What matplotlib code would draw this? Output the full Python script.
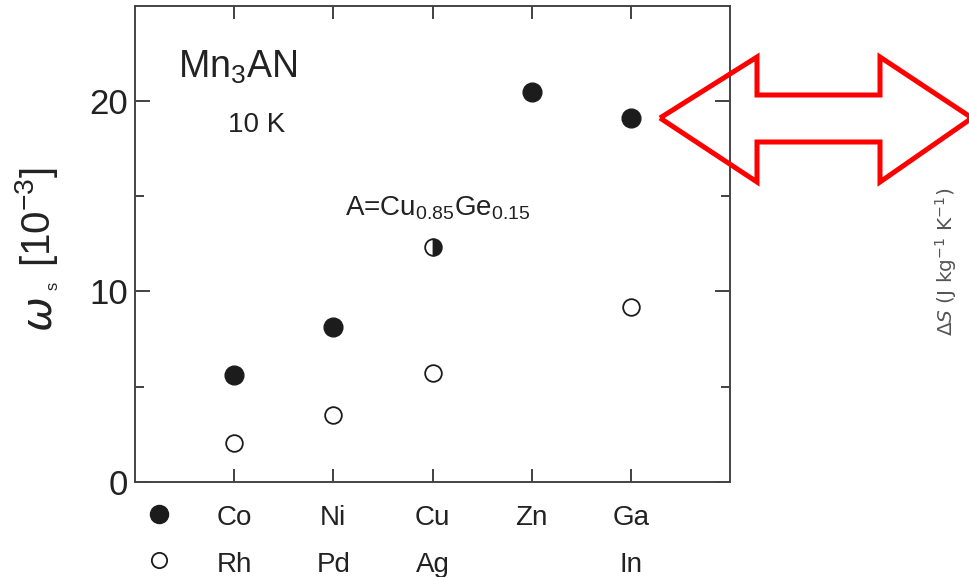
import matplotlib
matplotlib.use("Agg")
import matplotlib.pyplot as plt
from matplotlib.patches import Polygon
import matplotlib.transforms as mtransforms

plt.rcParams['font.family'] = ['Liberation Sans', 'DejaVu Sans']

# element columns: upper row (3d) and lower row (4d/5p) of A in Mn3AN
row_top = ['Co', 'Ni', 'Cu', 'Zn', 'Ga']
row_bottom = ['Rh', 'Pd', 'Ag', '', 'In']

# spontaneous volume strain omega_s (10^-3) at 10 K
filled_elems = ['Co', 'Ni', 'Zn', 'Ga']
filled_ws = [5.6, 8.13, 20.47, 19.09]
open_elems = ['Rh', 'Pd', 'Ag', 'In']
open_ws = [2.02, 3.51, 5.71, 9.18]
mixed_col = 'Cu'
mixed_ws = 12.34

INK = '#1c1c1c'
W, H = 969, 577

fig = plt.figure(figsize=(W / 100, H / 100), dpi=100)
ax = fig.add_axes([135 / W, 1 - 481.7 / H, 595 / W, 475.7 / H])

def col_x(name, row):
    return row.index(name) + 1

ax.plot([col_x(e, row_top) for e in filled_elems], filled_ws, 'o',
        ms=13.5, mfc=INK, mec=INK, mew=1, ls='none')
ax.plot([col_x(e, row_bottom) for e in open_elems], open_ws, 'o',
        ms=12, mfc='white', mec=INK, mew=1.3, ls='none')
ax.plot([col_x(mixed_col, row_top)], [mixed_ws], 'o', ms=12,
        fillstyle='right', mfc=INK, mfcalt='white', mec=INK, mew=1.3)

ax.set_xlim(0, 6)
ax.set_ylim(0, 25)
ax.set_xticks(range(1, len(row_top) + 1))
ax.set_xticklabels([])
ax.set_yticks([0, 10, 20])
ax.set_yticks([5, 15], minor=True)
ax.tick_params(axis='y', which='major', direction='in', length=11, width=1.3,
               right=True, labelsize=25, pad=5, colors='#333333',
               labelcolor='#222222')
ax.tick_params(axis='y', which='minor', direction='in', length=6.5, width=1.3,
               right=True, colors='#333333')
ax.tick_params(axis='x', which='major', direction='in', length=9.5, width=1.3,
               top=True, colors='#333333')
for s in ax.spines.values():
    s.set_linewidth(1.4)
    s.set_color('#444444')

# two-row element labels under the axis
trans = mtransforms.blended_transform_factory(ax.transData, ax.transAxes)
for i, (a, b) in enumerate(zip(row_top, row_bottom)):
    ax.text(i + 1, -0.091, a, transform=trans, ha='center', va='baseline',
            fontsize=20, color='#222222')
    if b:
        ax.text(i + 1, -0.190, b, transform=trans, ha='center', va='baseline',
                fontsize=20, color='#222222')
ax.plot([0.24], [-0.068], 'o', transform=trans, clip_on=False,
        ms=13, mfc=INK, mec=INK)
ax.plot([0.24], [-0.165], 'o', transform=trans, clip_on=False,
        ms=11, mfc='white', mec=INK, mew=1.3)

# annotations inside the frame
ax.text(178 / W, 1 - 78 / H, r'Mn$_{\mathregular{3}}$AN', transform=fig.transFigure,
        fontsize=27, color='#222222', va='baseline')
ax.text(228 / W, 1 - 132 / H, '10 K', transform=fig.transFigure,
        fontsize=20, color='#222222', va='baseline')
ax.text(345 / W, 1 - 215 / H,
        r'A=Cu$_{\mathregular{0.85}}$Ge$_{\mathregular{0.15}}$',
        transform=fig.transFigure, fontsize=20, color='#222222', va='baseline')

# y-axis label built from pieces so the omega can be larger
fig.text(41 / W, 1 - 314 / H, r'$\omega$', rotation=90, fontsize=30,
         ha='center', va='center', color='#222222')
fig.text(53 / W, 1 - 286 / H, 's', rotation=90, fontsize=12,
         ha='center', va='center', color='#222222')
fig.text(37 / W, 1 - 217 / H, r'[10$^{\mathregular{-3}}$]', rotation=90,
         fontsize=29, ha='center', va='center', color='#222222')

# red double-headed outline arrow
arrow_px = [(660, 118), (757, 57), (757, 95), (880, 95), (880, 57),
            (972, 118), (880, 182), (880, 142), (757, 142), (757, 182)]
arrow = Polygon([(x / W, 1 - y / H) for x, y in arrow_px], closed=True,
                fill=False, edgecolor='#ff0000', linewidth=3.6,
                joinstyle='miter', transform=fig.transFigure, clip_on=False)
fig.add_artist(arrow)

fig.text(946 / W, 1 - 262 / H, r'$\Delta S$ (J kg$^{-1}$ K$^{-1}$)', rotation=90,
         fontsize=14.5, ha='center', va='center', color='#555555',
         family='DejaVu Sans')

fig.savefig('out.png', dpi=100)
